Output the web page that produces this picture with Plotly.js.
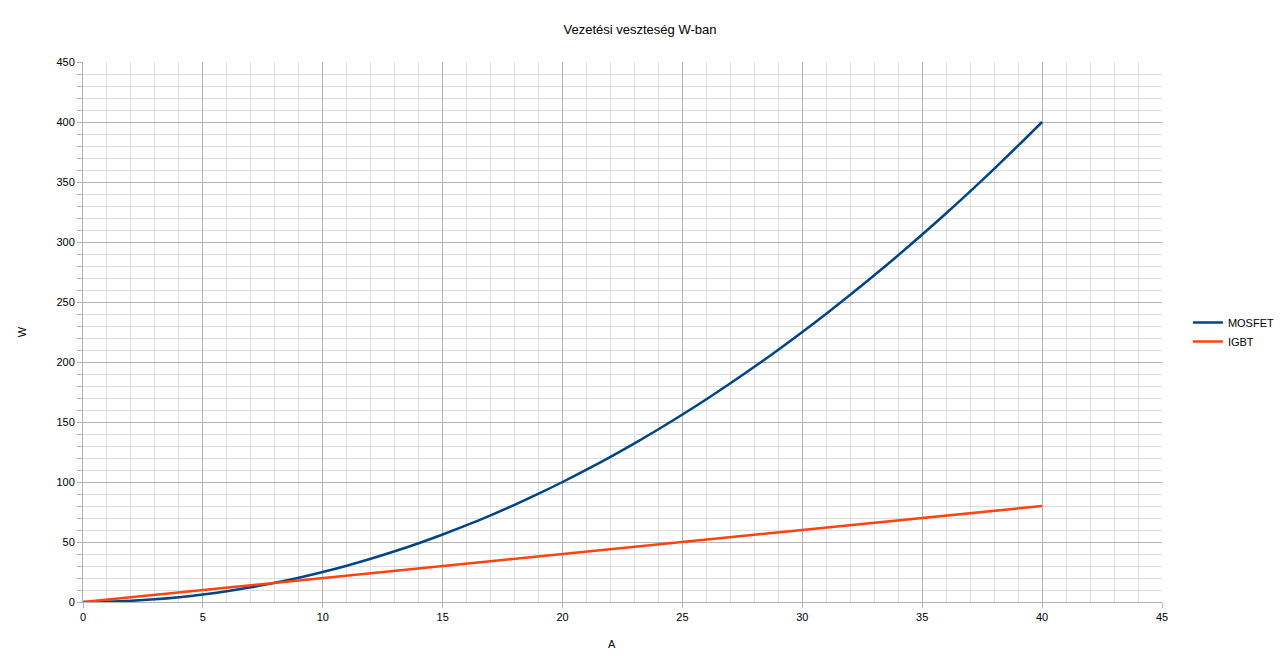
<!DOCTYPE html>
<html><head><meta charset="utf-8">
<script src="https://cdn.plot.ly/plotly-3.0.1.min.js"></script>
<style>html,body{margin:0;padding:0;background:#fff;}#chart{width:1280px;height:667px;}</style>
</head><body><div id="chart"></div>
<script>
const current = [0,1,2,3,4,5,6,7,8,9,10,11,12,13,14,15,16,17,18,19,20,21,22,23,24,25,26,27,28,29,30,31,32,33,34,35,36,37,38,39,40];
const mosfet = [0,0.25,1,2.25,4,6.25,9,12.25,16,20.25,25,30.25,36,42.25,49,56.25,64,72.25,81,90.25,100,110.25,121,132.25,144,156.25,169,182.25,196,210.25,225,240.25,256,272.25,289,306.25,324,342.25,361,380.25,400];
const igbt = [0,2,4,6,8,10,12,14,16,18,20,22,24,26,28,30,32,34,36,38,40,42,44,46,48,50,52,54,56,58,60,62,64,66,68,70,72,74,76,78,80];
const seriesNames = ['MOSFET','IGBT'];
const chartTitle = 'Vezetési veszteség W-ban';
const xTitle = 'A';
const yTitle = 'W';

const font = {family:'"Liberation Sans", Arial, sans-serif', size:11, color:'#000'};
const traces = [
  {x:current, y:mosfet, name:seriesNames[0], type:'scatter', mode:'lines', line:{color:'#004586', width:2.5, shape:'spline'}},
  {x:current, y:igbt, name:seriesNames[1], type:'scatter', mode:'lines', line:{color:'#ff420e', width:2.5}}
];
const layout = {
  width:1280, height:667,
  margin:{l:83, r:118, t:62, b:65, autoexpand:false},
  paper_bgcolor:'#fff', plot_bgcolor:'#fff',
  font:font,
  title:{text:chartTitle, x:0.5, xanchor:'center', y:0.956, yanchor:'middle', font:{family:font.family, size:13, color:'#000'}},
  xaxis:{range:[0,45], dtick:5, tick0:0, showgrid:true, gridcolor:'#b3b3b3', gridwidth:1,
    minor:{dtick:1, showgrid:true, gridcolor:'#dddddd', gridwidth:1, ticks:''},
    ticks:'outside', ticklen:5, tickcolor:'#b3b3b3', showline:true, linecolor:'#b3b3b3', mirror:false,
    zeroline:false, tickfont:{family:font.family, size:11, color:'#000'}},
  yaxis:{range:[0,450], dtick:50, tick0:0, showgrid:true, gridcolor:'#b3b3b3', gridwidth:1,
    minor:{dtick:10, showgrid:true, gridcolor:'#dddddd', gridwidth:1, ticks:'outside', ticklen:5, tickcolor:'#b3b3b3'},
    ticks:'outside', ticklen:5, tickcolor:'#b3b3b3', showline:true, linecolor:'#b3b3b3',
    zeroline:false, tickfont:{family:font.family, size:11, color:'#000'},
    title:{text:yTitle, standoff:27, font:{family:font.family, size:11, color:'#000'}}},
  annotations:[{text:xTitle, xref:'paper', yref:'paper', x:(612-83)/1079, y:-0.078, xanchor:'center', yanchor:'middle',
    showarrow:false, font:{family:font.family, size:11, color:'#000'}}],
  legend:{x:1.024, y:0.5, xanchor:'left', yanchor:'middle', font:{family:font.family, size:11, color:'#000'},
    tracegroupgap:0, itemwidth:30, bgcolor:'rgba(0,0,0,0)'},
  showlegend:true
};
Plotly.newPlot('chart', traces, layout, {displayModeBar:false, staticPlot:true});
</script></body></html>
